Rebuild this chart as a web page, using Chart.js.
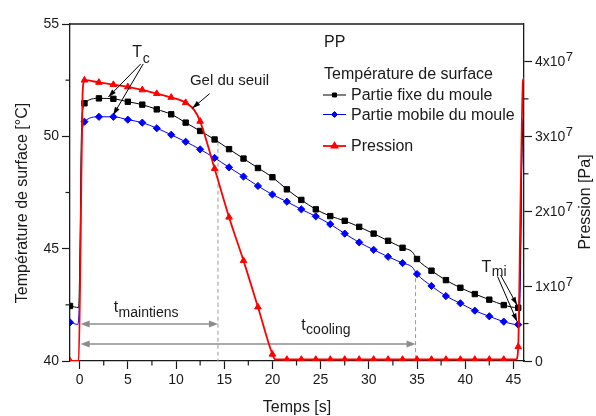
<!DOCTYPE html>
<html>
<head>
<meta charset="utf-8">
<script src="https://cdn.jsdelivr.net/npm/chart.js@4.4.1/dist/chart.umd.min.js"></script>
<style>
  html, body { margin: 0; padding: 0; background: #fff; }
  #wrap { width: 596px; height: 416px; }
</style>
</head>
<body>
<div id="wrap"><canvas id="chart" width="596" height="416"></canvas></div>
<script>
// axis ticks
const xTicks = [0, 5, 10, 15, 20, 25, 30, 35, 40, 45]
const xMinor = [2.5, 7.5, 12.5, 17.5, 22.5, 27.5, 32.5, 37.5, 42.5]
const tempTicks = [40, 45, 50, 55]
const tempMinor = [42.5, 47.5, 52.5]
const pressTicks = [0, 1e7, 2e7, 3e7, 4e7]
const pressMinor = [0.5e7, 1.5e7, 2.5e7, 3.5e7]

// Partie fixe du moule (°C)
const fixeTime = [-1, -0.1, 0.05, 0.2, 0.35,
  0.5, 2, 3.5, 5, 6.5, 8, 9.5, 11, 12.5, 14, 15.5, 17, 18.5, 20, 21.5, 23, 24.5, 26, 27.5, 29, 30.5, 32, 33.5,
  34.5, 35, 36.5, 38, 39.5, 41, 42.5, 44, 45.5, 45.7, 45.9, 46.3]
const fixeTemp = [42.45, 42.38, 45.5, 50.4, 51.25,
  51.47, 51.69, 51.67, 51.54, 51.41, 51.20, 50.98, 50.61, 50.24, 49.86, 49.43, 49.01, 48.59, 48.18, 47.64, 47.17, 46.75, 46.45, 46.24, 45.97, 45.67, 45.35, 45.04,
  44.86, 44.54, 44.02, 43.60, 43.26, 42.98, 42.73, 42.49, 42.37, 44.0, 49.5, 51.6]

// Partie mobile du moule (°C)
const mobileTime = [-1, -0.2, 0.05, 0.2, 0.35,
  0.5, 2, 3.5, 5, 6.5, 8, 9.5, 11, 12.5, 14, 15.5, 17, 18.5, 20, 21.5, 23, 24.5, 26, 27.5, 29, 30.5, 32, 33.5,
  34.5, 35, 36.5, 38, 39.5, 41, 42.5, 44, 45.5, 45.7, 45.95, 46.3]
const mobileTemp = [41.72, 41.63, 44.0, 49.6, 50.45,
  50.65, 50.87, 50.87, 50.74, 50.61, 50.36, 50.07, 49.76, 49.42, 49.04, 48.62, 48.21, 47.79, 47.41, 47.09, 46.75, 46.44, 46.09, 45.67, 45.28, 44.95, 44.64, 44.36,
  44.18, 43.87, 43.34, 42.89, 42.57, 42.24, 41.99, 41.75, 41.62, 43.0, 50.6, 51.0]

// Pression (Pa)
const pressTime = [-1, -0.1, 0.1, 0.3,
  0.5, 2, 3.5, 5, 6.5, 8, 9.5, 11, 11.9, 12.5, 14, 15.5, 17, 18.5, 20, 20.3,
  21.5, 23, 24.5, 26, 27.5, 29, 30.5, 32, 33.5, 35, 36.5, 38, 39.5, 41, 42.5, 44,
  45.3, 45.5, 45.75, 46.0, 46.4]
const pressVal = [0, 0, 1.6e7, 3.55e7,
  3.75e7, 3.72e7, 3.69e7, 3.66e7, 3.62e7, 3.57e7, 3.52e7, 3.45e7, 3.35e7, 3.2e7, 2.57e7, 1.92e7, 1.34e7, 0.72e7, 0.09e7, 0.02e7,
  0.02e7, 0.02e7, 0.02e7, 0.02e7, 0.02e7, 0.02e7, 0.02e7, 0.02e7, 0.02e7, 0.02e7, 0.02e7, 0.02e7, 0.02e7, 0.02e7, 0.02e7, 0.02e7,
  0.02e7, 0.19e7, 2.2e7, 3.75e7, 3.8e7]

// annotations (data units: time, temperature)
const guideLines = [{ t: 14.35, from: 49.76, to: 40 }, { t: 34.85, from: 44.0, to: 40 }]
const spanArrows = [{ v: 41.65, from: 0.1, to: 14.35 }, { v: 40.76, from: 0.1, to: 34.85 }]
const pointerArrows = [
  [6.33, 53.22, 2.98, 51.75], [6.59, 53.22, 3.48, 50.95],
  [13.49, 51.90, 11.69, 51.25],
  [43.67, 43.83, 45.38, 42.49], [43.36, 43.76, 45.38, 41.76]
]
const notes = [
  { t: 5.47, v: 53.54, main: 'T', sub: 'c', drop: 6 },
  { t: 41.70, v: 43.97, main: 'T', sub: 'mi', drop: 4 },
  { t: 3.53, v: 42.19, main: 't', sub: 'maintiens', drop: 5 },
  { t: 22.98, v: 41.38, main: 't', sub: 'cooling', drop: 4 },
  { t: 11.44, v: 52.28, main: 'Gel du seuil', sub: '', drop: 0 }
]

const fontFamily = "'Liberation Sans', Arial, Helvetica, sans-serif"
const axisColor = '#1a1a1a'
const textColor = '#1a1a1a'
const markerStart = -1
const markerStep = 1.5
Chart.defaults.font.family = fontFamily
Chart.defaults.color = textColor

function toPoints (xs, ys) {
  return xs.map((x, i) => ({ x, y: ys[i] }))
}

function onMarkerGrid (x) {
  const k = (x - markerStart) / markerStep
  return Math.abs(k - Math.round(k)) < 1e-6
}

function markerRadius (r) {
  return (ctx) => (ctx.raw && onMarkerGrid(ctx.raw.x) ? r : 0)
}

function line (ctx, x1, y1, x2, y2) {
  ctx.beginPath()
  ctx.moveTo(x1, y1)
  ctx.lineTo(x2, y2)
  ctx.stroke()
}

function arrowHead (ctx, x1, y1, x2, y2, len, half) {
  const a = Math.atan2(y2 - y1, x2 - x1)
  const bx = x2 - len * Math.cos(a)
  const by = y2 - len * Math.sin(a)
  ctx.beginPath()
  ctx.moveTo(x2, y2)
  ctx.lineTo(bx + half * Math.sin(a), by - half * Math.cos(a))
  ctx.lineTo(bx - half * Math.sin(a), by + half * Math.cos(a))
  ctx.closePath()
  ctx.fill()
}

function subText (ctx, x, y, main, sub, mainSize, subSize, drop) {
  ctx.textAlign = 'left'
  ctx.textBaseline = 'alphabetic'
  ctx.font = `${mainSize}px ${fontFamily}`
  ctx.fillText(main, x, y)
  if (!sub) return
  const w = ctx.measureText(main).width
  ctx.font = `${subSize}px ${fontFamily}`
  ctx.fillText(sub, x + w + 0.5, y + drop)
}

const legendRows = [95, 114.5, 146]

const decor = {
  id: 'decor',
  beforeDatasetsDraw (chart) {
    const { ctx, scales: { x, y } } = chart
    ctx.save()
    ctx.strokeStyle = '#9a9a9a'
    ctx.lineWidth = 1
    ctx.setLineDash([4, 3])
    guideLines.forEach(g => {
      const px = x.getPixelForValue(g.t)
      line(ctx, px, y.getPixelForValue(g.from), px, y.getPixelForValue(g.to))
    })
    ctx.setLineDash([])
    ctx.strokeStyle = '#8c8c8c'
    ctx.fillStyle = '#8c8c8c'
    ctx.lineWidth = 1.5
    spanArrows.forEach(a => {
      const py = y.getPixelForValue(a.v)
      const x1 = x.getPixelForValue(a.from)
      const x2 = x.getPixelForValue(a.to)
      line(ctx, x1 + 4, py, x2 - 4, py)
      arrowHead(ctx, x1, py, x2, py, 9, 3.5)
      arrowHead(ctx, x2, py, x1, py, 9, 3.5)
    })
    ctx.restore()
  },
  afterDraw (chart) {
    const { ctx, chartArea: area, scales: { x, y, y2 } } = chart
    ctx.save()

    // frame top + minor ticks
    ctx.strokeStyle = axisColor
    ctx.lineWidth = 1.3
    line(ctx, area.left, area.top, area.right, area.top)
    ctx.lineWidth = 1.2
    xMinor.forEach(v => {
      const px = x.getPixelForValue(v)
      line(ctx, px, area.bottom, px, area.bottom + 4.5)
    })
    tempMinor.forEach(v => {
      const py = y.getPixelForValue(v)
      line(ctx, area.left - 4.5, py, area.left, py)
    })
    pressMinor.forEach(v => {
      const py = y2.getPixelForValue(v)
      line(ctx, area.right, py, area.right + 4.5, py)
    })

    // right tick labels with exponent
    ctx.fillStyle = textColor
    pressTicks.forEach(v => {
      const py = y2.getPixelForValue(v)
      const lx = area.right + 11
      ctx.textAlign = 'left'
      ctx.textBaseline = 'alphabetic'
      ctx.font = `14px ${fontFamily}`
      if (v === 0) {
        ctx.fillText('0', lx, py + 5)
        return
      }
      const m = `${v / 1e7}x10`
      ctx.fillText(m, lx, py + 5)
      const w = ctx.measureText(m).width
      ctx.font = `13px ${fontFamily}`
      ctx.fillText('7', lx + w + 0.5, py - 0.5)
    })

    // axis titles
    ctx.font = `16px ${fontFamily}`
    ctx.textAlign = 'center'
    ctx.textBaseline = 'alphabetic'
    ctx.fillText('Temps [s]', (area.left + area.right) / 2, 411.5)
    ctx.save()
    ctx.translate(26.5, 203)
    ctx.rotate(-Math.PI / 2)
    ctx.fillText('Température de surface [°C]', 0, 0)
    ctx.restore()
    ctx.save()
    ctx.translate(590, 202)
    ctx.rotate(-Math.PI / 2)
    ctx.fillText('Pression [Pa]', 0, 0)
    ctx.restore()

    // pointer arrows and notes
    ctx.strokeStyle = '#000'
    ctx.fillStyle = '#000'
    ctx.lineWidth = 1
    pointerArrows.forEach(a => {
      const x1 = x.getPixelForValue(a[0])
      const y1 = y.getPixelForValue(a[1])
      const x2 = x.getPixelForValue(a[2])
      const y2p = y.getPixelForValue(a[3])
      line(ctx, x1, y1, x2, y2p)
      arrowHead(ctx, x1, y1, x2, y2p, 8, 2.6)
    })
    ctx.fillStyle = textColor
    notes.forEach(n => {
      const big = n.main === 'Gel du seuil' ? 15 : 16
      subText(ctx, x.getPixelForValue(n.t), y.getPixelForValue(n.v), n.main, n.sub, big, 14, n.drop)
    })

    // legend
    ctx.textAlign = 'left'
    ctx.textBaseline = 'alphabetic'
    ctx.font = `16px ${fontFamily}`
    ctx.fillText('PP', 324, 46.5)
    ctx.fillText('Température de surface', 324, 78.5)
    chart.data.datasets.forEach((ds, i) => {
      const ly = legendRows[i]
      ctx.strokeStyle = ds.borderColor
      ctx.lineWidth = ds.borderWidth
      line(ctx, 323, ly, 346, ly)
      ctx.fillStyle = ds.backgroundColor
      ctx.strokeStyle = ds.backgroundColor
      Chart.helpers.drawPoint(ctx, { pointStyle: ds.pointStyle, radius: ds.legendRadius, rotation: 0, borderWidth: 1 }, 334.5, ly)
      ctx.fillStyle = textColor
      ctx.font = `16px ${fontFamily}`
      ctx.fillText(ds.label, 351, ly + 5)
    })
    ctx.restore()
  }
}

const axisBase = {
  grid: { drawOnChartArea: false, drawTicks: true, tickLength: 8, tickWidth: 1.2, tickColor: axisColor },
  border: { display: true, color: axisColor, width: 1.3 }
}

new Chart(document.getElementById('chart'), {
  type: 'line',
  data: {
    datasets: [
      {
        label: 'Partie fixe du moule',
        data: toPoints(fixeTime, fixeTemp),
        yAxisID: 'y',
        borderColor: '#000000',
        backgroundColor: '#000000',
        borderWidth: 1,
        pointStyle: 'rect',
        pointRadius: markerRadius(3.8),
        pointBorderWidth: 1,
        legendRadius: 2.8,
        cubicInterpolationMode: 'monotone',
        order: 1
      },
      {
        label: 'Partie mobile du moule',
        data: toPoints(mobileTime, mobileTemp),
        yAxisID: 'y',
        borderColor: '#0000ff',
        backgroundColor: '#0000ff',
        borderWidth: 1,
        pointStyle: 'rectRot',
        pointRadius: markerRadius(3.6),
        pointBorderWidth: 1,
        legendRadius: 3,
        cubicInterpolationMode: 'monotone',
        order: 2
      },
      {
        label: 'Pression',
        data: toPoints(pressTime, pressVal),
        yAxisID: 'y2',
        borderColor: '#ff0000',
        backgroundColor: '#ff0000',
        borderWidth: 1.8,
        pointStyle: 'triangle',
        pointRadius: markerRadius(3.8),
        pointBorderWidth: 1,
        legendRadius: 3.2,
        cubicInterpolationMode: 'monotone',
        order: 0
      }
    ]
  },
  options: {
    responsive: false,
    animation: false,
    events: [],
    layout: { padding: { top: 24, left: 0, right: 0, bottom: 0 } },
    plugins: { legend: { display: false }, tooltip: { enabled: false } },
    scales: {
      x: {
        ...axisBase,
        type: 'linear',
        min: -1,
        max: 46.1,
        afterBuildTicks: s => { s.ticks = xTicks.map(v => ({ value: v })) },
        afterFit: s => { s.height = 55 },
        ticks: { font: { size: 14 }, color: textColor, padding: 3, maxRotation: 0, autoSkip: false }
      },
      y: {
        ...axisBase,
        position: 'left',
        min: 40,
        max: 55,
        afterBuildTicks: s => { s.ticks = tempTicks.map(v => ({ value: v })) },
        afterFit: s => { s.width = 70 },
        ticks: { font: { size: 14 }, color: textColor, padding: 3 }
      },
      y2: {
        ...axisBase,
        position: 'right',
        min: 0,
        max: 4.5e7,
        afterBuildTicks: s => { s.ticks = pressTicks.map(v => ({ value: v })) },
        afterFit: s => { s.width = 72 },
        ticks: { display: false }
      }
    }
  },
  plugins: [decor]
})
</script>
</body>
</html>
